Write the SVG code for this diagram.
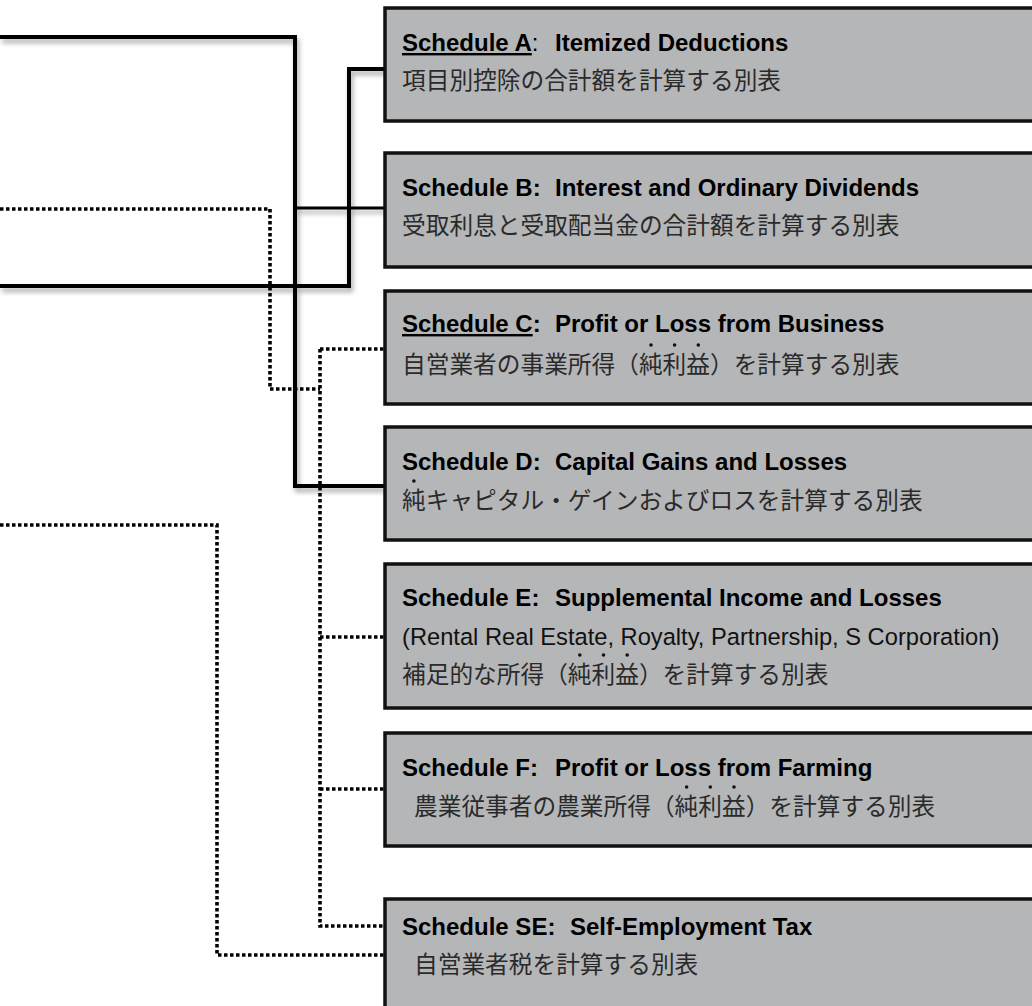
<svg xmlns="http://www.w3.org/2000/svg" width="1032" height="1006" viewBox="0 0 1032 1006">
  <defs>
    <filter id="sh" x="-10%" y="-10%" width="130%" height="140%">
      <feGaussianBlur in="SourceAlpha" stdDeviation="2.5"/>
      <feOffset dx="2" dy="4" result="b"/>
      <feComponentTransfer><feFuncA type="linear" slope="0.35"/></feComponentTransfer>
      <feMerge><feMergeNode/><feMergeNode in="SourceGraphic"/></feMerge>
    </filter>
    <style>
      .box{fill:#b5b6b8;stroke:#111;stroke-width:3.5}
      .t{font-family:"Liberation Sans",Arial,sans-serif;font-weight:bold;font-size:24px;fill:#000}
      .e{font-family:"Liberation Sans",Arial,sans-serif;font-size:23.7px;fill:#111}
      .j{font-family:"Noto Sans CJK JP","Noto Sans CJK SC",sans-serif;font-size:23.7px;fill:#2a2a2a}
      .solid{fill:none;stroke:#000;stroke-width:4;stroke-linejoin:miter}
      .dot{fill:none;stroke:#000;stroke-width:3.6;stroke-dasharray:3.5 2.5}
      .em{fill:#111}
    </style>
  </defs>
  <rect width="1032" height="1006" fill="#fff"/>

  <g id="connectors">
    <g filter="url(#sh)">
      <polyline class="solid" points="0,37 295,37 295,486 386,486"/>
      <polyline class="solid" points="295,208 386,208" style="stroke-width:3"/>
      <polyline class="solid" points="386,69 349,69 349,286 0,286"/>
    </g>
    <polyline class="dot" points="0,209 270,209 270,389 320,389"/>
    <polyline class="dot" points="320,349 320,926 386,926"/>
    <polyline class="dot" points="320,349 386,349"/>
    <polyline class="dot" points="320,637 386,637"/>
    <polyline class="dot" points="320,789 386,789"/>
    <polyline class="dot" points="0,525 217,525 217,955 386,955"/>
  </g>

  <g id="scheduleA">
    <rect class="box" x="385" y="8" width="660" height="113"/>
    <text class="t" x="402" y="51"><tspan text-decoration="underline">Schedule A</tspan><tspan font-weight="normal">:</tspan></text>
    <text class="t" x="555" y="51">Itemized Deductions</text>
    <text class="j" x="402" y="89">項目別控除の合計額を計算する別表</text>
  </g>

  <g id="scheduleB">
    <rect class="box" x="385" y="153" width="660" height="114"/>
    <text class="t" x="402" y="196">Schedule B:</text>
    <text class="t" x="555" y="196">Interest and Ordinary Dividends</text>
    <text class="j" x="402" y="234">受取利息と受取配当金の合計額を計算する別表</text>
  </g>

  <g id="scheduleC">
    <rect class="box" x="385" y="291" width="660" height="113"/>
    <text class="t" x="402" y="332"><tspan text-decoration="underline">Schedule C</tspan>:</text>
    <text class="t" x="555" y="332">Profit or Loss from Business</text>
    <text class="j" x="402" y="373">自営業者の事業所得（純利益）を計算する別表</text>
    <circle class="em" cx="651" cy="345" r="1.8"/>
    <circle class="em" cx="674.6" cy="345" r="1.8"/>
    <circle class="em" cx="698.3" cy="345" r="1.8"/>
  </g>

  <g id="scheduleD">
    <rect class="box" x="385" y="427" width="660" height="113"/>
    <text class="t" x="402" y="470">Schedule D:</text>
    <text class="t" x="555" y="470">Capital Gains and Losses</text>
    <text class="j" x="402" y="509">純キャピタル・ゲインおよびロスを計算する別表</text>
    <circle class="em" cx="413.9" cy="481" r="1.8"/>
  </g>

  <g id="scheduleE">
    <rect class="box" x="385" y="564" width="660" height="144"/>
    <text class="t" x="402" y="606">Schedule E:</text>
    <text class="t" x="555" y="606">Supplemental Income and Losses</text>
    <text class="e" x="402" y="645">(Rental Real Estate, Royalty, Partnership, S Corporation)</text>
    <text class="j" x="402" y="683">補足的な所得（純利益）を計算する別表</text>
    <circle class="em" cx="579.8" cy="655" r="1.8"/>
    <circle class="em" cx="603.5" cy="655" r="1.8"/>
    <circle class="em" cx="627.2" cy="655" r="1.8"/>
  </g>

  <g id="scheduleF">
    <rect class="box" x="385" y="733" width="660" height="113"/>
    <text class="t" x="402" y="776">Schedule F:</text>
    <text class="t" x="555" y="776">Profit or Loss from Farming</text>
    <text class="j" x="414" y="815">農業従事者の農業所得（純利益）を計算する別表</text>
    <circle class="em" cx="686.6" cy="787" r="1.8"/>
    <circle class="em" cx="710.3" cy="787" r="1.8"/>
    <circle class="em" cx="734" cy="787" r="1.8"/>
  </g>

  <g id="scheduleSE">
    <rect class="box" x="385" y="899" width="660" height="130"/>
    <text class="t" x="402" y="935">Schedule SE:</text>
    <text class="t" x="570" y="935">Self-Employment Tax</text>
    <text class="j" x="414" y="973">自営業者税を計算する別表</text>
  </g>
</svg>
